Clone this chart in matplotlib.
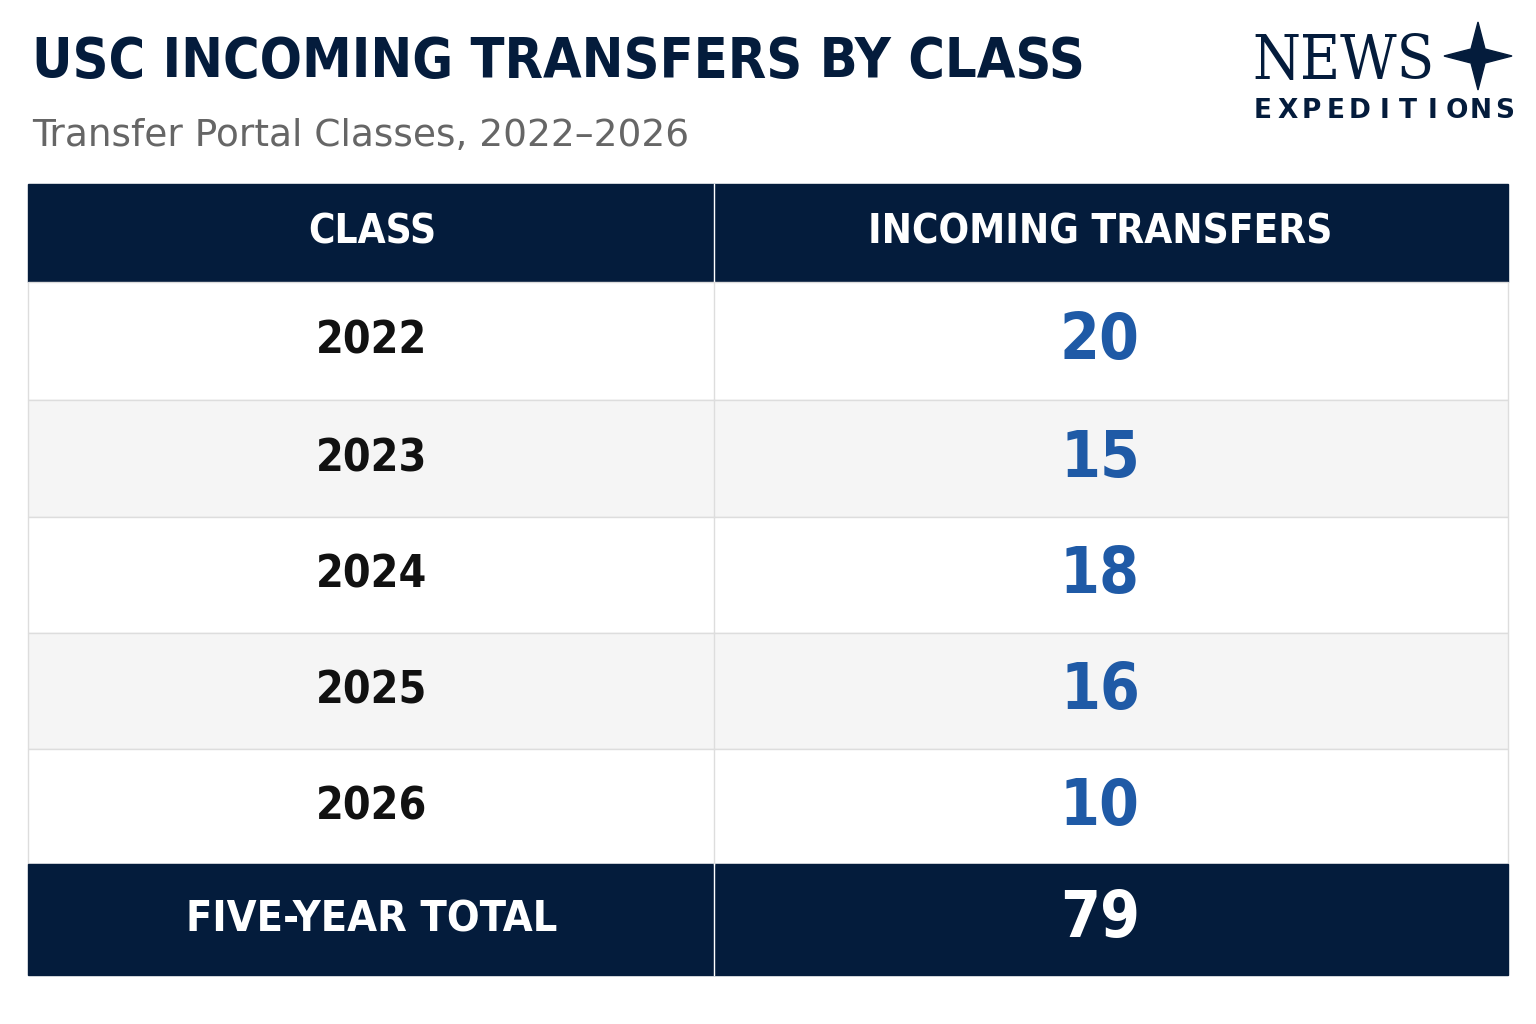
import matplotlib
matplotlib.use("Agg")
import matplotlib.pyplot as plt
from matplotlib.patches import Rectangle, Polygon

title = "USC INCOMING TRANSFERS BY CLASS"
subtitle = "Transfer Portal Classes, 2022\u20132026"
col_headers = ["CLASS", "INCOMING TRANSFERS"]
classes = ["2022", "2023", "2024", "2025", "2026"]
transfers = [20, 15, 18, 16, 10]
total_label = "FIVE-YEAR TOTAL"
total_value = 79

NAVY = "#041c3c"
BLUE = "#1f5aa6"

fig = plt.figure(figsize=(15.36, 10.24), dpi=100)
ax = fig.add_axes([0, 0, 1, 1])
ax.set_xlim(0, 1536); ax.set_ylim(1024, 0); ax.axis("off")

cond = dict(family="DejaVu Sans", fontstretch="condensed", fontweight="bold")
ax.text(32, 62, title, fontsize=40, color=NAVY, va="center", ha="left", **cond)
ax.text(32, 136, subtitle, fontsize=27, color="#666666", va="center", ha="left", family="DejaVu Sans")

# logo
ax.text(1252, 62, "NEWS", fontsize=44, color=NAVY, family="DejaVu Serif", va="center", ha="left", fontstretch="condensed")
cx, cy, r, w = 1478, 56, 34, 7
ax.add_patch(Polygon([(cx, cy-r), (cx+w, cy-w), (cx+r, cy), (cx+w, cy+w), (cx, cy+r), (cx-w, cy+w), (cx-r, cy), (cx-w, cy-w)], color=NAVY))
word = "EXPEDITIONS"
x0, x1 = 1263, 1505
for k, ch in enumerate(word):
    ax.text(x0 + k*(x1-x0)/(len(word)-1), 111, ch, fontsize=19, color=NAVY, ha="center", va="center", family="DejaVu Sans", fontweight="bold")

L, M, R = 28, 714, 1508
top, hh = 184, 98
row_edges = [282, 400, 517, 633, 749, 864]
tot_bot = 975
cx1, cx2 = 372, 1100

ax.add_patch(Rectangle((L, top), R-L, hh, color=NAVY))
ax.plot([M, M], [top, top+hh], color="white", lw=1)
for x, t in zip([cx1, cx2], col_headers):
    ax.text(x, top+hh/2, t, fontsize=29, color="white", ha="center", va="center", **cond)

for i, (c, v) in enumerate(zip(classes, transfers)):
    y0, y1 = row_edges[i], row_edges[i+1]
    ax.add_patch(Rectangle((L, y0), R-L, y1-y0, facecolor="white" if i % 2 == 0 else "#f5f5f5", edgecolor="#dddddd", lw=1))
    ax.plot([M, M], [y0, y1], color="#dddddd", lw=1)
    ym = (y0+y1)/2
    ax.text(cx1, ym, c, fontsize=32, color="#111111", ha="center", va="center", **cond)
    ax.text(cx2, ym, str(v), fontsize=46, color=BLUE, ha="center", va="center", **cond)

ax.add_patch(Rectangle((L, row_edges[-1]), R-L, tot_bot-row_edges[-1], color=NAVY))
ax.plot([M, M], [row_edges[-1], tot_bot], color="white", lw=1)
ym = (row_edges[-1]+tot_bot)/2
ax.text(cx1, ym, total_label, fontsize=31, color="white", ha="center", va="center", **cond)
ax.text(cx2, ym, str(total_value), fontsize=46, color="white", ha="center", va="center", **cond)

fig.savefig("out.png", dpi=100, facecolor="white")
